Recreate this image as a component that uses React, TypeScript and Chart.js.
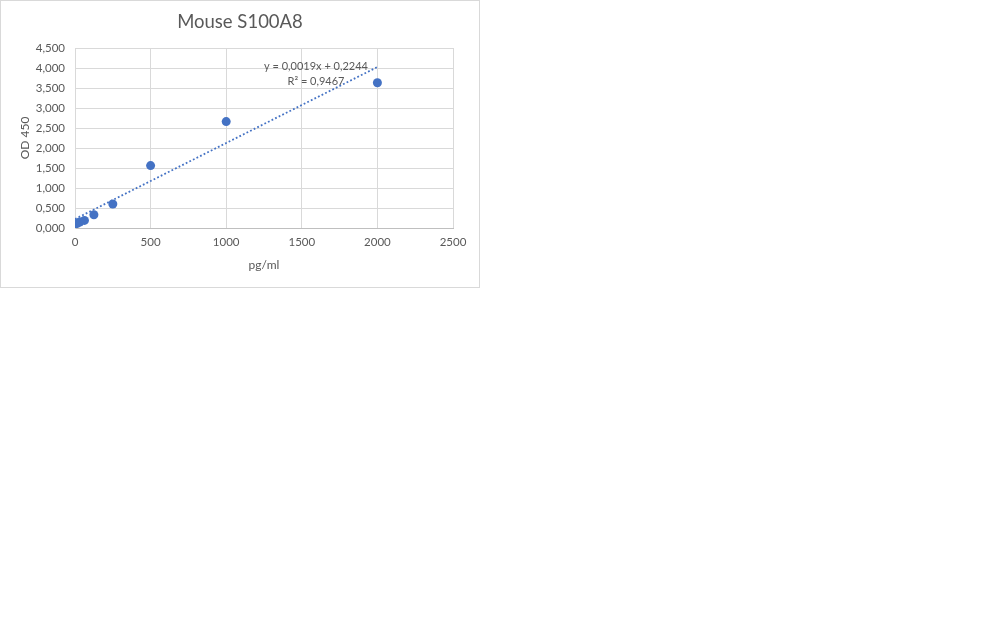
import React, { useEffect, useRef } from "react";
import { Chart, registerables } from "chart.js";

Chart.register(...registerables);

const chartTitle = "Mouse S100A8";
const xAxisTitle = "pg/ml";
const yAxisTitle = "OD 450";
const concentrations = [0, 15.6, 31.25, 62.5, 125, 250, 500, 1000, 2000];
const odValues = [0.09, 0.12, 0.15, 0.19, 0.33, 0.6, 1.56, 2.66, 3.63];
const trendCoefficients = [0.0019, 0.2244]; // slope, intercept
const trendRange = [0, 2000];
const equationLines = ["y = 0,0019x + 0,2244", "R² = 0,9467"];

const FONT = "Lato, 'Open Sans', sans-serif";
const TEXT = "#595959";
const BLUE = "#4472C4";
const GRID = "#d9d9d9";

const textPlugin = {
  id: "excelText",
  afterDraw(chart: any) {
    const ctx = chart.ctx;
    const area = chart.chartArea;
    ctx.save();
    ctx.fillStyle = TEXT;
    ctx.textAlign = "center";
    ctx.textBaseline = "middle";
    ctx.font = `18.5px ${FONT}`;
    ctx.fillText(chartTitle, chart.width / 2, 21);
    ctx.font = `12px ${FONT}`;
    ctx.fillText(xAxisTitle, (area.left + area.right) / 2, 264);
    ctx.save();
    ctx.translate(24, (area.top + area.bottom) / 2);
    ctx.rotate(-Math.PI / 2);
    ctx.fillText(yAxisTitle, 0, 0);
    ctx.restore();
    ctx.font = `11px ${FONT}`;
    ctx.fillText(equationLines[0], 315, 65);
    ctx.fillText(equationLines[1], 315, 80);
    ctx.restore();
  },
};

export default function App() {
  const ref = useRef<HTMLCanvasElement>(null);
  useEffect(() => {
    if (!ref.current) return;
    const points = concentrations.map((x, i) => ({ x, y: odValues[i] }));
    const trend = trendRange.map((x) => ({ x, y: trendCoefficients[0] * x + trendCoefficients[1] }));
    const chart = new Chart(ref.current, {
      type: "scatter",
      data: {
        datasets: [
          {
            label: "OD",
            data: points,
            backgroundColor: BLUE,
            borderColor: BLUE,
            pointRadius: 4.5,
            pointBorderWidth: 0,
            order: 1,
          },
          {
            type: "line",
            label: "Trend",
            data: trend,
            borderColor: BLUE,
            borderWidth: 1.8,
            borderDash: [1.8, 2.2],
            pointRadius: 0,
            fill: false,
            order: 2,
          } as any,
        ],
      },
      options: {
        responsive: false,
        animation: false,
        devicePixelRatio: 1,
        layout: { padding: { top: 47, right: 26, left: 0, bottom: 0 } },
        plugins: {
          legend: { display: false },
          tooltip: { enabled: false },
          title: { display: false },
        },
        scales: {
          x: {
            type: "linear",
            min: 0,
            max: 2500,
            ticks: {
              stepSize: 500,
              padding: 7,
              color: TEXT,
              font: { family: FONT, size: 11.5 },
              callback: (v: any) => String(v),
            },
            grid: { color: GRID, drawTicks: false },
            border: { color: "#bfbfbf" },
            afterFit: (s: any) => {
              s.height = 59;
            },
          },
          y: {
            type: "linear",
            min: 0,
            max: 4.5,
            ticks: {
              stepSize: 0.5,
              padding: 10,
              color: TEXT,
              font: { family: FONT, size: 11.5 },
              callback: (v: any) => Number(v).toFixed(3).replace(".", ","),
            },
            grid: { color: GRID, drawTicks: false },
            border: { color: GRID },
            afterFit: (s: any) => {
              s.width = 74;
            },
          },
        },
      },
      plugins: [textPlugin],
    });
    return () => chart.destroy();
  }, []);

  return (
    <div
      style={{
        position: "absolute",
        left: 0,
        top: 0,
        width: 480,
        height: 288,
        boxSizing: "border-box",
        border: "1px solid #d9d9d9",
        background: "#fff",
      }}
    >
      <canvas ref={ref} width={478} height={286} style={{ display: "block" }} />
    </div>
  );
}
